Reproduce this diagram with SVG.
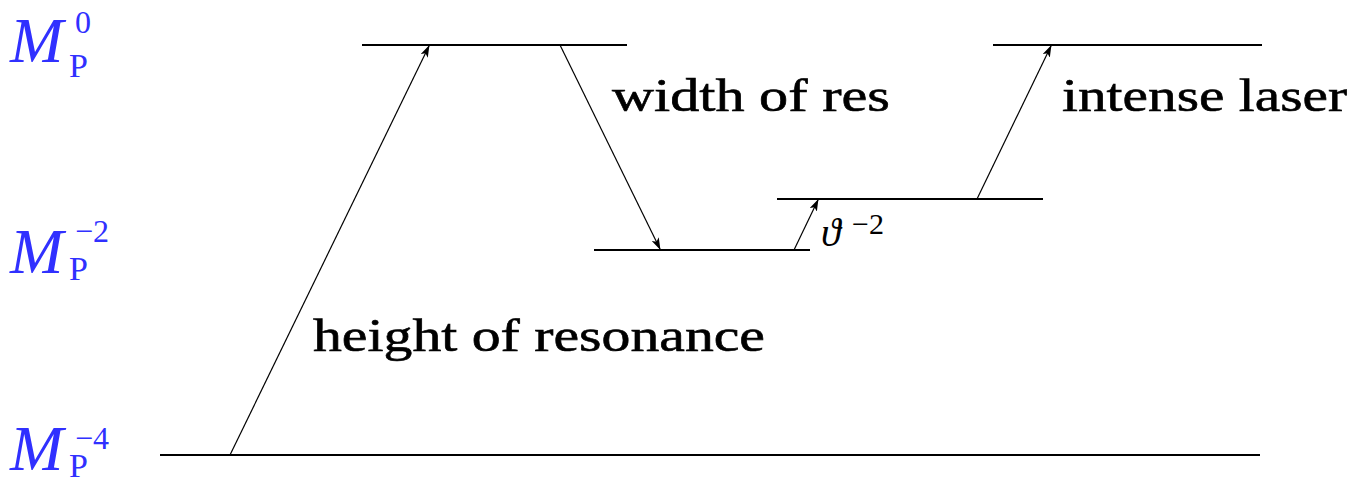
<svg xmlns="http://www.w3.org/2000/svg" width="1352" height="482" viewBox="0 0 1352 482">
<style>
.lvl{stroke:#000;stroke-width:2;fill:none}
.arr{stroke:#000;stroke-width:1.2;fill:none;marker-end:url(#ah)}
.lbl{font-family:"Liberation Serif",serif;font-size:46px;fill:#000;stroke:#000;stroke-width:0.6}
.m{font-family:"Liberation Serif",serif;fill:#3030ff}
.mi{font-style:italic;font-size:64px}
.sub{font-size:34px}
.sup{font-size:32px}
.th{font-family:"Liberation Serif",serif;fill:#000}
</style>
<defs>
<marker id="ah" markerWidth="12" markerHeight="8" refX="11" refY="4" orient="auto" markerUnits="userSpaceOnUse">
<path d="M0,0 L12,4 L0,8 L3,4 Z" fill="#000"/>
</marker>
</defs>
<rect width="1352" height="482" fill="#fff"/>
<g id="axis-labels">
<g id="label-M0">
<text class="m mi" x="10" y="62">M</text>
<text class="m sup" x="75" y="33">0</text>
<text class="m sub" x="69" y="77">P</text>
</g>
<g id="label-M-2">
<text class="m mi" x="10" y="273">M</text>
<text class="m sup" x="75" y="242">−2</text>
<text class="m sub" x="69" y="280">P</text>
</g>
<g id="label-M-4">
<text class="m mi" x="10" y="470">M</text>
<text class="m sup" x="75" y="449">−4</text>
<text class="m sub" x="69" y="477">P</text>
</g>
</g>
<g id="levels">
<line id="level-top-left" class="lvl" x1="362" y1="45" x2="627" y2="45"/>
<line id="level-top-right" class="lvl" x1="993" y1="45" x2="1262" y2="45"/>
<line id="level-mid" class="lvl" x1="777" y1="199" x2="1043" y2="199"/>
<line id="level-lowmid" class="lvl" x1="594" y1="250" x2="810" y2="250"/>
<line id="level-bottom" class="lvl" x1="160" y1="455" x2="1260" y2="455"/>
</g>
<g id="connectors">
<line class="arr" x1="230" y1="455" x2="429" y2="46"/>
<line class="arr" x1="560" y1="45" x2="660" y2="249"/>
<line class="arr" x1="794" y1="250" x2="818" y2="200"/>
<line class="arr" x1="977" y1="199" x2="1051" y2="46"/>
</g>
<g id="texts">
<text class="lbl" x="313" y="351" textLength="452" lengthAdjust="spacingAndGlyphs">height of resonance</text>
<text class="lbl" x="612" y="111" textLength="278" lengthAdjust="spacingAndGlyphs">width of res</text>
<text class="lbl" x="1062" y="111" textLength="285" lengthAdjust="spacingAndGlyphs">intense laser</text>
<text class="th" x="821" y="246" font-size="40" font-style="italic">ϑ</text>
<text class="th" x="852" y="234" font-size="30">−2</text>
</g>
</svg>
